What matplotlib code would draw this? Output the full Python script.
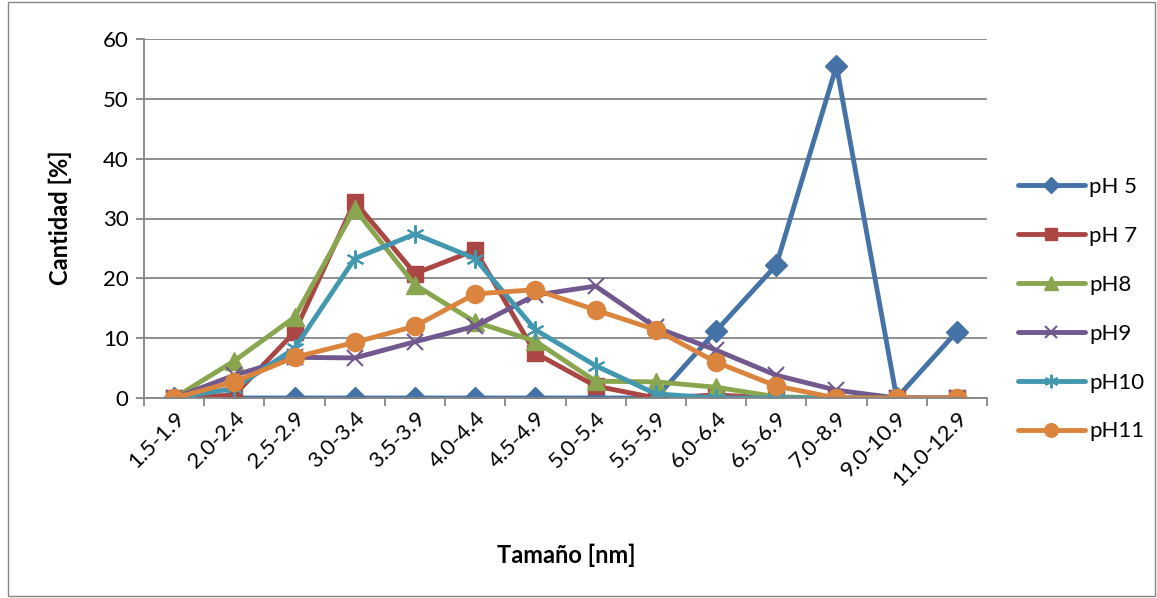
#!/usr/bin/env python3
import numpy as np
import matplotlib
matplotlib.use('Agg')
from matplotlib import pyplot as plt
from matplotlib.patches import Rectangle

## data
sizes = ['1.5-1.9', '2.0-2.4', '2.5-2.9', '3.0-3.4', '3.5-3.9', '4.0-4.4', '4.5-4.9',
         '5.0-5.4', '5.5-5.9', '6.0-6.4', '6.5-6.9', '7.0-8.9', '9.0-10.9', '11.0-12.9']
ph5  = [0, 0, 0, 0, 0, 0, 0, 0, 0, 11.2, 22.2, 55.5, 0, 11.1]
ph7  = [0, 0.5, 11.0, 32.8, 20.8, 24.7, 7.5, 2.0, 0, 0.5, 0, 0, 0, 0]
ph8  = [0, 6.2, 13.5, 31.6, 18.9, 12.7, 9.5, 2.8, 2.7, 1.8, 0.2, 0, 0, 0]
ph9  = [0, 3.8, 6.8, 6.7, 9.4, 12.0, 17.2, 18.7, 11.8, 8.0, 3.8, 1.3, 0, 0]
ph10 = [0, 1.6, 8.3, 23.3, 27.4, 23.3, 11.4, 5.4, 0.7, 0, 0, 0, 0, 0]
ph11 = [0, 2.7, 6.8, 9.3, 12.0, 17.4, 18.1, 14.7, 11.4, 6.0, 2.0, 0, 0, 0]

series = [
    ('pH 5', ph5, '#4572A7', 'D', 11),
    ('pH 7', ph7, '#AA4643', 's', 12),
    ('pH8', ph8, '#89A54E', '^', 13),
    ('pH9', ph9, '#71588F', 'x', 11),
    ('pH10', ph10, '#4198AF', (6, 2, 0), 13),
    ('pH11', ph11, '#DB843D', 'o', 13),
]

plt.rcParams['font.family'] = ['Lato', 'DejaVu Sans']

fig = plt.figure(figsize=(11.57, 5.98), dpi=100)
ax = fig.add_axes([144/1157, 1-398/598, (987-144)/1157, (398-39)/598])

x = np.arange(len(sizes))
for name, vals, col, mk, ms in series:
    ax.plot(x, vals, color=col, lw=3.5, marker=mk, markersize=ms,
            markeredgewidth=1.5 if mk in ('x', (6, 2, 0)) else 1.0,
            markeredgecolor=col, markerfacecolor=col, label=name,
            solid_joinstyle='round', solid_capstyle='round')

ax.set_xlim(-0.5, len(sizes) - 0.5)
ax.set_ylim(0, 60)
ax.set_yticks(range(0, 61, 10))
ax.yaxis.grid(True, color='#868686', lw=1.3)
ax.set_axisbelow(True)
for s in ['top', 'right']:
    ax.spines[s].set_visible(False)
for s in ['left', 'bottom']:
    ax.spines[s].set_color('#868686')
    ax.spines[s].set_linewidth(1.3)

ax.set_xticks(x)
ax.set_xticklabels(sizes, rotation=45, ha='right', rotation_mode='anchor', fontsize=16)
ax.tick_params(axis='x', which='major', length=0, pad=7)
ax.set_xticks(np.arange(-0.5, len(sizes), 1.0), minor=True)
ax.tick_params(axis='x', which='minor', length=6, color='#868686', width=1.3)
ax.tick_params(axis='y', labelsize=16, length=6, color='#868686', width=1.3, pad=5)

fig.text(566/1157, 1-555/598, 'Tamaño [nm]', ha='center', va='center',
         fontsize=17, fontweight='bold')
fig.text(60/1157, 1-218/598, 'Cantidad [%]', ha='center', va='center',
         fontsize=17, fontweight='bold', rotation=90)

leg = ax.legend(loc='upper left', bbox_to_anchor=(1018/1157, 1-177/598),
                bbox_transform=fig.transFigure, frameon=False, fontsize=16,
                handlelength=3.0, labelspacing=1.3, handletextpad=0.2,
                markerscale=0.75, borderaxespad=0, borderpad=0)

fig.patches.append(Rectangle((8/1157, 2/598), 1147/1157, 594/598,
                             transform=fig.transFigure, fill=False,
                             edgecolor='#868686', lw=1.0))

fig.savefig('out.png', dpi=100)
